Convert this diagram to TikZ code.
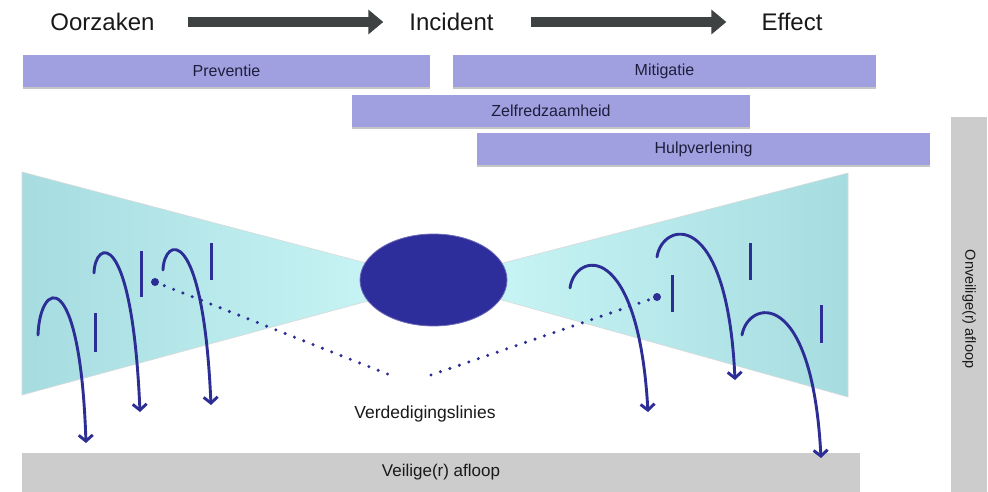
\documentclass[tikz,border=0pt]{standalone}
\usepackage{fontspec}
\setmainfont{Liberation Sans}
\usetikzlibrary{arrows.meta,shapes.geometric,shadows}
\definecolor{lav}{RGB}{160,160,224}
\definecolor{lavtext}{RGB}{30,30,60}
\definecolor{navy}{RGB}{45,45,150}
\definecolor{ellfill}{RGB}{45,45,155}
\definecolor{tealout}{RGB}{166,220,224}
\definecolor{tealin}{RGB}{205,248,248}
\definecolor{graybar}{RGB}{204,204,204}
\definecolor{arrowgray}{RGB}{62,66,66}
\definecolor{txt}{RGB}{25,25,25}
\tikzset{
  title/.style={inner sep=0pt, text=txt, font=\fontsize{24}{28}\selectfont},
  titlearrow/.style={draw=arrowgray, line width=10pt, -{Triangle[length=15pt,width=24pt]}},
  lbl/.style={fill=lav, text=lavtext, inner sep=0pt, minimum height=32pt,
    font=\fontsize{16}{19}\selectfont,
    drop shadow={shadow xshift=0pt, shadow yshift=-2pt, fill=black!45, opacity=0.5}},
  graybox/.style={fill=graybar, text=txt, inner sep=0pt},
  curv/.style={draw=navy, line width=2.9pt, line cap=round, -{Straight Barb[length=6pt,width=14pt]}},
  barline/.style={draw=navy, line width=3pt},
  dotline/.style={draw=navy, line width=3.4pt, line cap=round, dash pattern=on 0pt off 10pt},
  wedge/.style={draw=black!15, line width=0.6pt}
}
\begin{document}
\begin{tikzpicture}[x=1pt,y=-1pt]
\useasboundingbox (0,0) rectangle (988,492);
\fill[white] (0,0) rectangle (988,492);

% title row
\node[title] (oorz) at (102.5,22) {Oorzaken};
\node[title] (inc) at (451.5,22) {Incident};
\node[title] (eff) at (792,22) {Effect};
\draw[titlearrow, shorten <=33pt, shorten >=26pt] (oorz.east) -- (inc.west);
\draw[titlearrow, shorten <=37pt, shorten >=35pt] (inc.east) -- (eff.west);

% phase boxes
\node[lbl, minimum width=407pt] (prev) at (226.5,71) {Preventie};
\node[lbl, minimum width=423pt] (mitig) at (664.5,71) {Mitigatie};
\node[lbl, minimum width=398pt] (zelf) at (551,111) {Zelfredzaamheid};
\node[lbl, minimum width=453pt] (hulp) at (703.5,149) {Hulpverlening};

% grey outcome bars
\node[graybox, minimum width=36pt, minimum height=375pt] (onv) at (969,304.5) {};
\node[rotate=-90, text=txt, font=\fontsize{14.5}{17}\selectfont] (onvt) at (969,309) {Onveilige(r) afloop};
\node[graybox, minimum width=838pt, minimum height=39pt, font=\fontsize{17}{20}\selectfont] (veil) at (441,472.5) {Veilige(r) afloop};

% bow-tie wedges
\path[wedge, left color=tealout, right color=tealin] (22,172) -- (438,282) -- (22,395) -- cycle;
\path[wedge, left color=tealin, right color=tealout] (848,173) -- (434,281) -- (848,397) -- cycle;
\node[ellipse, fill=ellfill, draw=ellfill!70, line width=0.8pt, minimum width=147pt, minimum height=92pt, inner sep=0pt] (core) at (433.5,280) {};

% defence line label
\node[text=txt, font=\fontsize{17.5}{20}\selectfont] (verd) at (425,414) {Verdedigingslinies};

% dotted lines
\coordinate (ldot) at (155,282);
\coordinate (lend) at (390,375);
\coordinate (rend) at (431,375);
\coordinate (rdot) at (657,297);
\draw[dotline] (ldot) -- (lend);
\draw[dotline] (rend) -- (rdot);
\fill[navy] (ldot) circle (4pt);
\fill[navy] (rdot) circle (4pt);

% barrier bars
\draw[barline] (95,313) -- (95,352);
\draw[barline] (141,251) -- (141,297);
\draw[barline] (211,243) -- (211,280);
\draw[barline] (672,275) -- (672,312);
\draw[barline] (750,243) -- (750,280);
\draw[barline] (821,305) -- (821,343);

% curved arrows
\coordinate (as) at (38,335);  \coordinate (ae) at (86,443);
\coordinate (bs) at (94,273);  \coordinate (be) at (140,412);
\coordinate (cs) at (163,270); \coordinate (ce) at (211,405);
\coordinate (ds) at (570,288); \coordinate (de) at (648,412);
\coordinate (es) at (657,257); \coordinate (ee) at (735,380);
\coordinate (fs) at (742,335); \coordinate (fe) at (821,458);
\draw[curv] (as) .. controls (40,280) and (80,265) .. (ae);
\draw[curv] (bs) .. controls (95,240) and (132,225) .. (be);
\draw[curv] (cs) .. controls (164,237) and (203,222) .. (ce);
\draw[curv] (ds) .. controls (575,252) and (638,238) .. (de);
\draw[curv] (es) .. controls (662,222) and (727,205) .. (ee);
\draw[curv] (fs) .. controls (748,300) and (812,285) .. (fe);
\end{tikzpicture}
\end{document}
